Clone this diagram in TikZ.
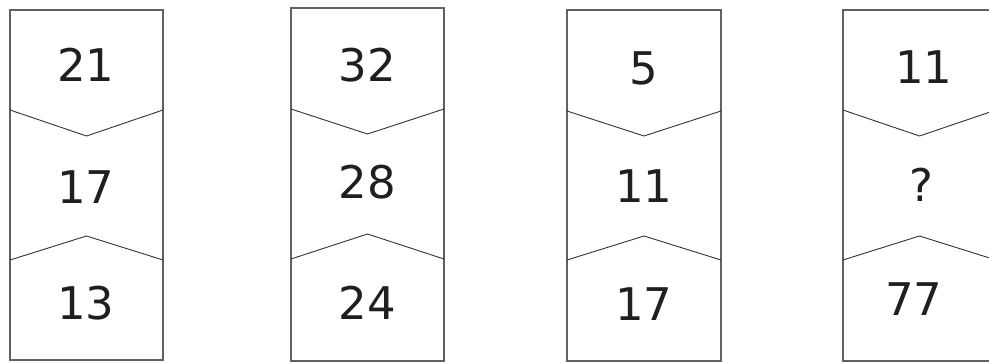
\documentclass[tikz,border=0pt]{standalone}
\usepackage{fontspec}
\setmainfont{DejaVu Sans}
\begin{document}
\begin{tikzpicture}[x=1pt,y=-1pt,
  frame/.style={draw=black!62, line width=1.8pt},
  chev/.style={draw=black!80, line width=0.9pt},
  num/.style={inner sep=0pt, text=black!88, font=\fontsize{45}{50}\selectfont}]
\useasboundingbox (0,0) rectangle (989,363);
\clip (0,0) rectangle (989,363);
% column 1
\draw[frame] (10,10) rectangle (163,360);
\draw[chev] (10,110) -- (86.5,136) -- (163,110);
\draw[chev] (10,260) -- (86.5,236) -- (163,260);
\node[num] (a1) at (86,65) {21};
\node[num] (a2) at (86,187) {17};
\node[num] (a3) at (86,303) {13};
% column 2
\draw[frame] (291,8) rectangle (444,361);
\draw[chev] (291,109) -- (367.5,134) -- (444,109);
\draw[chev] (291,259) -- (367.5,234) -- (444,259);
\node[num] (b1) at (367.5,65) {32};
\node[num] (b2) at (367.5,182) {28};
\node[num] (b3) at (367.5,303) {24};
% column 3
\draw[frame] (567,10) rectangle (721,361);
\draw[chev] (567,111) -- (644,136) -- (721,111);
\draw[chev] (567,260) -- (644,236) -- (721,260);
\node[num] (c1) at (644,68) {5};
\node[num] (c2) at (644,186) {11};
\node[num] (c3) at (644,304) {17};
% column 4
\draw[frame] (843,10) rectangle (996,361);
\draw[chev] (843,110) -- (919.5,136) -- (996,110);
\draw[chev] (843,260) -- (919.5,236) -- (996,260);
\node[num] (d1) at (924,67) {11};
\node[num] (d2) at (921,185) {?};
\node[num] (d3) at (914,299) {77};
\end{tikzpicture}
\end{document}
